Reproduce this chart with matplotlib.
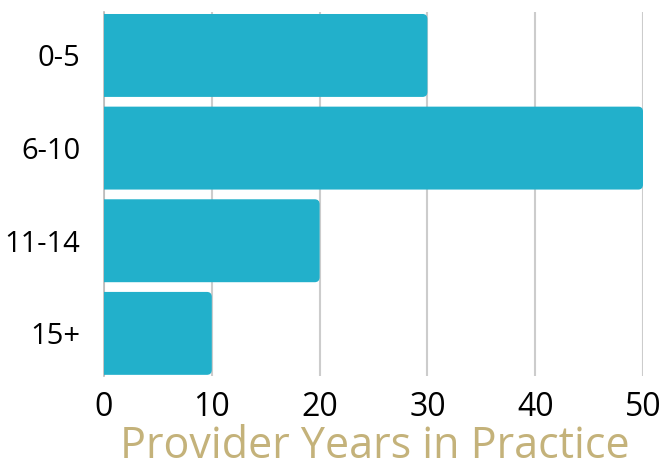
import matplotlib.pyplot as plt
from matplotlib.patches import FancyBboxPatch

# data
categories = ['0-5', '6-10', '11-14', '15+']
values = [30, 50, 20, 10]
xticks = [0, 10, 20, 30, 40, 50]

bar_color = '#22B0CB'
title_color = '#C4B27A'

plt.rcParams['font.family'] = ['Open Sans', 'DejaVu Sans']

fig = plt.figure(figsize=(6.64, 4.69), dpi=100)
ax = fig.add_axes([0.1566, 0.1983, 0.8118, 0.7763])

pos = list(range(len(categories)))
bars = ax.barh(pos, values, height=0.895, color=bar_color)

# swap plain bars for ones with rounded ends
for b in bars:
    x0, y0 = b.get_x(), b.get_y()
    w, h = b.get_width(), b.get_height()
    b.remove()
    p = FancyBboxPatch((x0 - 2, y0), w + 2, h,
                       boxstyle='round,pad=0,rounding_size=0.45',
                       mutation_aspect=0.12,
                       facecolor=bar_color, edgecolor='none', zorder=3)
    ax.add_patch(p)

ax.set_xlim(0, 50)
ax.set_ylim(3.46, -0.47)
ax.set_yticks(pos)
ax.set_yticklabels(categories)
ax.set_xticks(xticks)
ax.tick_params(axis='both', length=0, colors='black')
ax.tick_params(axis='y', pad=17, labelsize=21)
ax.tick_params(axis='x', pad=11, labelsize=23)

ax.xaxis.grid(True, color='#cccccc', linewidth=1.5, zorder=0)
ax.set_axisbelow(True)
for s in ['top', 'right', 'bottom']:
    ax.spines[s].set_visible(False)
ax.spines['left'].set_color('#bbbbbb')
ax.spines['left'].set_linewidth(1.2)

fig.text(0.565, 0.024, 'Provider Years in Practice', ha='center', va='baseline',
         fontsize=31, color=title_color)

fig.savefig('out.png', dpi=100)
